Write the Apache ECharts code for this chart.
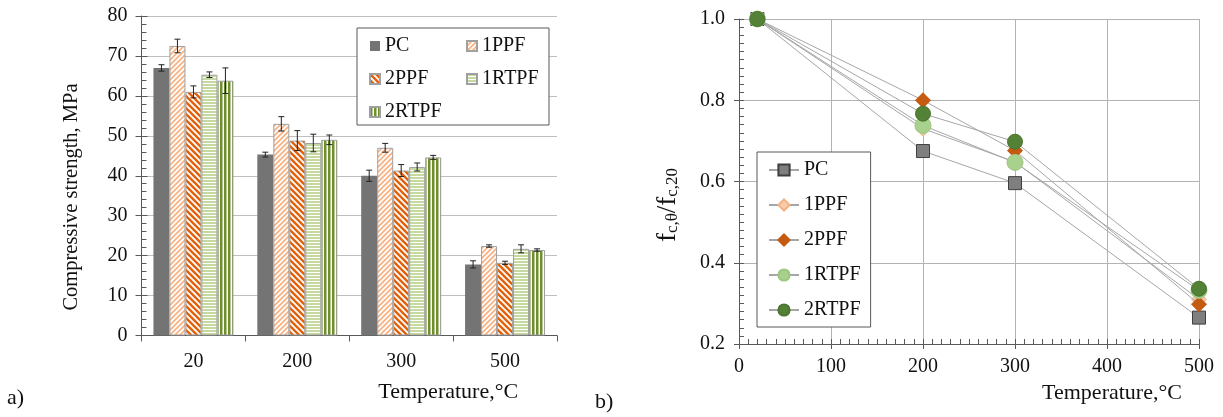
<!DOCTYPE html>
<html>
<head>
<meta charset="utf-8">
<script src="https://cdn.jsdelivr.net/npm/echarts@6/dist/echarts.min.js"></script>
<style>
html,body{margin:0;padding:0;background:#fff;}
#c{width:1223px;height:417px;}
</style>
</head>
<body>
<div id="c"></div>
<script>
// ---------- data ----------
const categories = ['20', '200', '300', '500'];
const seriesNames = ['PC', '1PPF', '2PPF', '1RTPF', '2RTPF'];
const pcVals    = [67.0, 45.3, 40.0, 17.8];
const ppf1Vals  = [72.5, 53.0, 47.0, 22.4];
const ppf2Vals  = [61.0, 48.8, 41.3, 18.2];
const rtpf1Vals = [65.3, 48.2, 42.2, 21.7];
const rtpf2Vals = [63.8, 49.0, 44.6, 21.4];
const pcErr    = [0.8, 0.6, 1.4, 0.9];
const ppf1Err  = [1.7, 1.8, 1.1, 0.3];
const ppf2Err  = [1.5, 2.5, 1.5, 0.4];
const rtpf1Err = [0.7, 2.2, 1.0, 1.0];
const rtpf2Err = [3.2, 1.2, 0.5, 0.3];

const temps = [20, 200, 300, 500];
const relPC    = [1.0, 0.675, 0.596, 0.265];
const relPPF1  = [1.0, 0.730, 0.648, 0.310];
const relPPF2  = [1.0, 0.800, 0.676, 0.298];
const relRTPF1 = [1.0, 0.738, 0.647, 0.332];
const relRTPF2 = [1.0, 0.767, 0.698, 0.336];

// ---------- patterns ----------
function pattern(kind) {
  const cv = document.createElement('canvas');
  let ctx;
  if (kind === 'fwd' || kind === 'back') {
    const s = kind === 'fwd' ? 5 : 6;
    cv.width = s; cv.height = s;
    ctx = cv.getContext('2d');
    ctx.fillStyle = '#ffffff'; ctx.fillRect(0, 0, s, s);
    ctx.strokeStyle = kind === 'fwd' ? '#f8b384' : '#e4610b';
    ctx.lineWidth = kind === 'fwd' ? 1.8 : 2.4;
    ctx.beginPath();
    if (kind === 'fwd') {
      ctx.moveTo(-1, s + 1); ctx.lineTo(s + 1, -1);
      ctx.moveTo(-1, 1); ctx.lineTo(1, -1);
      ctx.moveTo(s - 1, s + 1); ctx.lineTo(s + 1, s - 1);
    } else {
      ctx.moveTo(-1, -1); ctx.lineTo(s + 1, s + 1);
      ctx.moveTo(s - 1, -1); ctx.lineTo(s + 1, 1);
      ctx.moveTo(-1, s - 1); ctx.lineTo(1, s + 1);
    }
    ctx.stroke();
  } else if (kind === 'horiz') {
    cv.width = 4; cv.height = 3;
    ctx = cv.getContext('2d');
    ctx.fillStyle = '#ffffff'; ctx.fillRect(0, 0, 4, 3);
    ctx.fillStyle = '#c6d9a0'; ctx.fillRect(0, 0, 4, 2);
  } else {
    cv.width = 4; cv.height = 4;
    ctx = cv.getContext('2d');
    ctx.fillStyle = '#ffffff'; ctx.fillRect(0, 0, 4, 4);
    ctx.fillStyle = '#6f8f2c'; ctx.fillRect(0, 0, 2.5, 4);
  }
  return { image: cv, repeat: 'repeat' };
}

const FONT = 'Liberation Serif';
const GAP = 0.23;
const barFills = [
  { color: '#747474', borderWidth: 0 },
  { color: pattern('fwd'), borderColor: '#a0a0a0', borderWidth: 1 },
  { color: pattern('back'), borderColor: '#a0a0a0', borderWidth: 1 },
  { color: pattern('horiz'), borderColor: '#a0a0a0', borderWidth: 1 },
  { color: pattern('vert'), borderColor: '#a0a0a0', borderWidth: 1 }
];
const barVals = [pcVals, ppf1Vals, ppf2Vals, rtpf1Vals, rtpf2Vals];
const barErrs = [pcErr, ppf1Err, ppf2Err, rtpf1Err, rtpf2Err];

const errData = [];
barVals.forEach((vals, si) => vals.forEach((v, ci) => errData.push([ci, v, barErrs[si][ci], si])));

const lineVals = [relPC, relPPF1, relPPF2, relRTPF1, relRTPF2];
const lineSym = [
  { symbol: 'rect', size: 13, color: '#7f7f7f', border: '#3f3f3f' },
  { symbol: 'diamond', size: 15, color: '#f8cbad', border: '#f4b183' },
  { symbol: 'diamond', size: 15, color: '#c55a11', border: '#c55a11' },
  { symbol: 'circle', size: 16, color: '#a9d18e', border: '#9cc57f' },
  { symbol: 'circle', size: 15, color: '#538135', border: '#4a7530' }
];

const axisTxt = { fontFamily: FONT, fontSize: 20, color: '#111' };
function legTxt() { return { fontFamily: FONT, fontSize: 20, color: '#111', fontWeight: 'normal' }; }

const series = [];
barVals.forEach((vals, si) => {
  series.push({
    name: seriesNames[si], type: 'bar', xAxisIndex: 0, yAxisIndex: 0,
    barCategoryGap: (GAP * 100) + '%', barGap: '0%',
    itemStyle: barFills[si], data: vals, silent: true, z: 2
  });
});
series.push({
  type: 'custom', xAxisIndex: 0, yAxisIndex: 0, data: errData, z: 5, silent: true,
  renderItem: function (params, api) {
    const ci = api.value(0), v = api.value(1), e = api.value(2), si = api.value(3);
    const c = api.coord([ci, v]);
    const band = api.size([1, 0])[0];
    const grp = band * (1 - GAP);
    const bw = grp / 5;
    const x = c[0] - grp / 2 + bw * (si + 0.5);
    const yt = api.coord([ci, v + e])[1];
    const yb = api.coord([ci, v - e])[1];
    const st = { stroke: '#222', lineWidth: 1 };
    return { type: 'group', children: [
      { type: 'line', shape: { x1: x, y1: yt, x2: x, y2: yb }, style: st },
      { type: 'line', shape: { x1: x - 3, y1: yt, x2: x + 3, y2: yt }, style: st },
      { type: 'line', shape: { x1: x - 3, y1: yb, x2: x + 3, y2: yb }, style: st }
    ]};
  }
});
lineVals.forEach((vals, si) => {
  const s = lineSym[si];
  series.push({
    name: seriesNames[si] + ' ', type: 'line', xAxisIndex: 1, yAxisIndex: 2,
    data: temps.map((t, i) => [t, vals[i]]),
    symbol: s.symbol, symbolSize: s.size, showAllSymbol: true,
    lineStyle: { color: '#a6a6a6', width: 1 },
    itemStyle: { color: s.color, borderColor: s.border, borderWidth: 1, opacity: 1 },
    silent: true, z: 3 + si
  });
});

const option = {
  animation: false,
  backgroundColor: '#ffffff',
  textStyle: { fontFamily: FONT },
  grid: [
    { left: 141.5, right: 666, top: 16, bottom: 81.5, containLabel: false, outerBoundsMode: 'none' },
    { left: 739, right: 24, top: 19, bottom: 73, containLabel: false, outerBoundsMode: 'none' }
  ],
  legend: [
    { data: ['PC', '2PPF', '2RTPF'], orient: 'vertical', left: 369, top: 36, itemWidth: 10, itemHeight: 10,
      itemGap: 13, icon: 'rect', textStyle: legTxt(), padding: 0, z: 10, selectedMode: false },
    { data: ['1PPF', '1RTPF'], orient: 'vertical', left: 466, top: 36, itemWidth: 10, itemHeight: 10,
      itemGap: 13, icon: 'rect', textStyle: legTxt(), padding: 0, z: 10, selectedMode: false },
    { data: seriesNames.map(n => n + ' '), orient: 'vertical', left: 757, top: 152,
      itemWidth: 30, itemHeight: 14, itemGap: 15,
      padding: [8, 10, 7, 11], borderColor: '#595959', borderWidth: 1, backgroundColor: '#ffffff',
      textStyle: legTxt(), formatter: n => n.trim(), z: 10, selectedMode: false }
  ],
  graphic: [
    { type: 'rect', shape: { x: 357, y: 28, width: 192, height: 97 }, z: 8,
      style: { fill: '#ffffff', stroke: '#595959', lineWidth: 1 } },
    { type: 'text', x: 72, y: 197, rotation: Math.PI / 2, z: 10,
      style: { text: 'Compressive strength, MPa', font: '20.5px "Liberation Serif"', fill: '#111', align: 'center', verticalAlign: 'middle' } },
    { type: 'text', x: 7, y: 398, z: 10, style: { text: 'a)', font: '22px "Liberation Serif"', fill: '#111', verticalAlign: 'middle' } },
    { type: 'text', x: 595, y: 402, z: 10, style: { text: 'b)', font: '22px "Liberation Serif"', fill: '#111', verticalAlign: 'middle' } }
  ],
  xAxis: [
    { type: 'category', gridIndex: 0, data: categories, position: 'bottom',
      axisLine: { lineStyle: { color: '#595959', width: 1 } },
      axisTick: { show: true, length: 6, lineStyle: { color: '#595959' } },
      axisLabel: Object.assign({ margin: 16, interval: 0 }, axisTxt),
      splitLine: { show: false },
      name: 'Temperature,°C', nameLocation: 'middle', nameGap: 46,
      nameTextStyle: { fontFamily: FONT, fontSize: 22, color: '#111', padding: [0, 0, 0, 198] } },
    { type: 'value', gridIndex: 1, min: 0, max: 500, interval: 100, position: 'bottom',
      axisLine: { lineStyle: { color: '#595959', width: 1 } },
      axisTick: { show: true, length: 5, lineStyle: { color: '#595959' } },
      axisLabel: Object.assign({ margin: 13 }, axisTxt),
      splitLine: { show: true, lineStyle: { color: '#b3b3b3', width: 1 } },
      name: 'Temperature,°C', nameLocation: 'middle', nameGap: 32,
      nameTextStyle: { fontFamily: FONT, fontSize: 22, color: '#111', padding: [0, 0, 0, 286] } },
    { type: 'value', gridIndex: 1, min: 0, max: 500, interval: 100, position: 'bottom',
      axisLine: { show: false },
      axisTick: { show: true, inside: true, length: 5, lineStyle: { color: '#595959' } },
      minorTick: { show: true, splitNumber: 10, length: 5, lineStyle: { color: '#595959' } },
      axisLabel: { show: false }, splitLine: { show: false } }
  ],
  yAxis: [
    { type: 'value', gridIndex: 0, min: 0, max: 80, interval: 10, position: 'left',
      axisLine: { show: true, lineStyle: { color: '#595959', width: 1 } },
      axisTick: { show: true, length: 6, lineStyle: { color: '#595959' } },
      axisLabel: Object.assign({ margin: 14 }, axisTxt),
      splitLine: { show: true, lineStyle: { color: '#bfbfbf', width: 1 } } },
    { type: 'value', gridIndex: 0, min: 0, max: 80, interval: 10, position: 'left',
      axisLine: { show: false },
      axisTick: { show: true, inside: true, length: 6, lineStyle: { color: '#595959' } },
      minorTick: { show: true, splitNumber: 5, length: 5, lineStyle: { color: '#595959' } },
      axisLabel: { show: false }, splitLine: { show: false } },
    { type: 'value', gridIndex: 1, min: 0.2, max: 1.0, interval: 0.2, position: 'left',
      axisLine: { show: true, lineStyle: { color: '#595959', width: 1 } },
      axisTick: { show: true, length: 5, lineStyle: { color: '#595959' } },
      axisLabel: Object.assign({ margin: 14, formatter: v => v.toFixed(1) }, axisTxt),
      splitLine: { show: true, lineStyle: { color: '#b3b3b3', width: 1 } },
      name: '{f|f}{s|c,θ}{f|/f}{s|c,20}', nameLocation: 'middle', nameGap: 58, nameRotate: 90,
      nameTextStyle: { padding: [0, 47, 0, 0], color: '#111',
        rich: {
          f: { fontFamily: FONT, fontSize: 27, color: '#111', verticalAlign: 'bottom', lineHeight: 30 },
          s: { fontFamily: FONT, fontSize: 17, color: '#111', verticalAlign: 'bottom', lineHeight: 30, padding: [8, 0, 0, 0] }
        } } },
    { type: 'value', gridIndex: 1, min: 0.2, max: 1.0, interval: 0.2, position: 'left',
      axisLine: { show: false },
      axisTick: { show: true, inside: true, length: 5, lineStyle: { color: '#595959' } },
      minorTick: { show: true, splitNumber: 10, length: 5, lineStyle: { color: '#595959' } },
      axisLabel: { show: false }, splitLine: { show: false } }
  ],
  series: series
};

const chart = echarts.init(document.getElementById('c'), null, { renderer: 'canvas' });
chart.setOption(option);
</script>
</body>
</html>
